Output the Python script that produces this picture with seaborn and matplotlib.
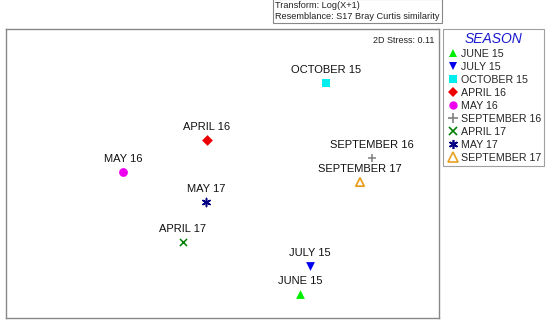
import matplotlib
matplotlib.use("Agg")
import matplotlib.pyplot as plt
from matplotlib.lines import Line2D
import pandas as pd
import seaborn as sns

# nMDS coordinates
seasons = ["JUNE 15", "JULY 15", "OCTOBER 15", "APRIL 16", "MAY 16",
           "SEPTEMBER 16", "APRIL 17", "MAY 17", "SEPTEMBER 17"]
mds_x = [0.78, 0.88, 1.04, -0.15, -0.99, 1.50, -0.39, -0.16, 1.38]
mds_y = [-1.21, -0.93, 0.90, 0.33, 0.01, 0.15, -0.69, -0.29, -0.09]
colors = ["#00ee00", "#0000ee", "#00eeee", "#ee0000", "#ee00ee",
          "#808080", "#008000", "#000080", "#e8a020"]
markers = ["^", "v", "s", "D", "o", "+", "x", (6, 2, 0), "^"]
filled = [True, True, True, True, True, False, False, False, False]
stress = 0.11

df = pd.DataFrame({"season": seasons, "x": mds_x, "y": mds_y})

sns.set_style("white")
plt.rcParams["font.family"] = ["Liberation Sans", "DejaVu Sans"]

fig = plt.figure(figsize=(5.5, 3.23), dpi=100)
ax = fig.add_axes([6 / 550, 1 - 318 / 323, 433 / 550, 289 / 323])

for i, row in df.iterrows():
    m = markers[i]
    if m == "^" and not filled[i]:
        ax.scatter(row["x"], row["y"], marker="^", s=36, facecolors="none",
                   edgecolors=colors[i], linewidths=1.3, zorder=3)
    elif filled[i]:
        sns.scatterplot(x=[row["x"]], y=[row["y"]], marker=m, color=colors[i],
                        s=40 if m != "D" else 30, linewidth=0, ax=ax, zorder=3)
    else:
        ax.scatter(row["x"], row["y"], marker=m, s=34 if m != "x" else 26,
                   color=colors[i], linewidths=1.1, zorder=3)
    ax.annotate(row["season"], (row["x"], row["y"]), xytext=(0, 9.5),
                textcoords="offset points", ha="center", va="center",
                fontsize=8, color="#111111")

ax.set_xlim(-2.16, 2.17)
ax.set_ylim(-1.45, 1.44)
ax.set_xticks([])
ax.set_yticks([])
ax.set_xlabel("")
ax.set_ylabel("")
for sp in ax.spines.values():
    sp.set_color("#888888")
    sp.set_linewidth(1.0)

ax.text(0.99, 0.975, f"2D Stress: {stress}", transform=ax.transAxes,
        ha="right", va="top", fontsize=6.5, color="#222222")

fig.text(275 / 550, 1 - 11 / 323,
         "Transform: Log(X+1)\nResemblance: S17 Bray Curtis similarity",
         ha="left", va="center", fontsize=6.6, color="#222222", linespacing=1.2,
         bbox=dict(boxstyle="square,pad=0.25", facecolor="white",
                   edgecolor="#888888", linewidth=0.8))

handles = []
for i, s in enumerate(seasons):
    if filled[i]:
        h = Line2D([], [], linestyle="none", marker=markers[i], color=colors[i],
                   markersize=6 if markers[i] != "D" else 5, markeredgewidth=0)
    else:
        h = Line2D([], [], linestyle="none", marker=markers[i],
                   markerfacecolor="none", markeredgecolor=colors[i],
                   markersize=6.5 if markers[i] != "x" else 5.5,
                   markeredgewidth=1.2)
    handles.append(h)

leg = fig.legend(handles, seasons, loc="upper left",
                 bbox_to_anchor=(443 / 550, 1 - 29 / 323), title="SEASON",
                 fontsize=7.7, frameon=True, fancybox=False, borderpad=0.3,
                 handletextpad=0.15, handlelength=1.2, labelspacing=0.28,
                 borderaxespad=0)
leg.get_frame().set_edgecolor("#888888")
leg.get_frame().set_linewidth(0.8)
leg.get_title().set_color("#1a1acc")
leg.get_title().set_fontstyle("italic")
leg.get_title().set_fontsize(10)

fig.savefig("out.png", dpi=100)
